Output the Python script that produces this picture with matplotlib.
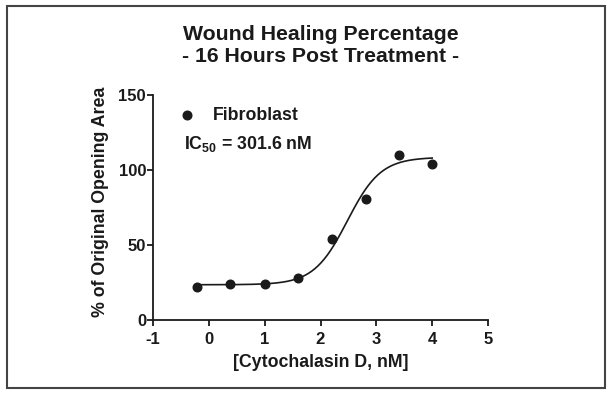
import numpy as np
import matplotlib
matplotlib.use("Agg")
import matplotlib.pyplot as plt
from matplotlib.patches import Rectangle

# Data (log10 concentration, % of original opening area)
log_conc = [-0.22, 0.38, 1.0, 1.6, 2.2, 2.81, 3.41, 4.0]
pct_area = [22.3, 24.3, 24.3, 28.3, 53.8, 80.5, 110.0, 103.8]

# Fitted sigmoidal dose-response parameters
fit_bottom = 23.5
fit_top = 108.5
fit_log_ic50 = np.log10(301.6)
fit_hill = 1.45

title_lines = ["Wound Healing Percentage", "- 16 Hours Post Treatment -"]
xlabel = "[Cytochalasin D, nM]"
ylabel = "% of Original Opening Area"
series_name = "Fibroblast"
x_ticks = [-1, 0, 1, 2, 3, 4, 5]
y_ticks = [0, 50, 100, 150]

plt.rcParams['font.family'] = ['Liberation Sans', 'DejaVu Sans']
plt.rcParams['font.weight'] = 'bold'
plt.rcParams['mathtext.fontset'] = 'custom'
plt.rcParams['mathtext.rm'] = 'Liberation Sans:bold'
plt.rcParams['mathtext.bf'] = 'Liberation Sans:bold'
dark = '#1a1a1a'

fig = plt.figure(figsize=(6.12, 3.95), dpi=100)
ax = fig.add_axes([153/612, 1 - 320/395, (488-153)/612, (320-95)/395])

xs = np.linspace(min(log_conc), max(log_conc), 300)
ys = fit_bottom + (fit_top - fit_bottom) / (1 + 10 ** ((fit_log_ic50 - xs) * fit_hill))
ax.plot(xs, ys, color=dark, lw=1.2, zorder=2)
ax.plot(log_conc, pct_area, 'o', color=dark, ms=6.2, zorder=3, clip_on=False)

ax.set_xlim(-1, 5)
ax.set_ylim(0, 150)
ax.set_xticks(x_ticks)
ax.set_yticks(y_ticks)
ax.set_xticklabels([str(t) for t in x_ticks])
ax.set_yticklabels([str(t) for t in y_ticks])
for s in ['top', 'right']:
    ax.spines[s].set_visible(False)
for s in ['left', 'bottom']:
    ax.spines[s].set_linewidth(1.3)
    ax.spines[s].set_color(dark)
ax.tick_params(direction='out', length=4.5, width=1.3, color=dark,
               labelsize=12, labelcolor=dark)
ax.tick_params(axis='y', pad=0.5)
ax.tick_params(axis='x', pad=4)
for lab in ax.get_xticklabels() + ax.get_yticklabels():
    lab.set_fontweight('bold')

ax.set_xlabel(xlabel, fontsize=12.8, fontweight='bold', color=dark, labelpad=5)
ax.set_ylabel(ylabel, fontsize=12.8, fontweight='bold', color=dark)
ax.yaxis.set_label_coords((109 - 153) / (488 - 153), (320 - 201.5) / (320 - 95))

# Legend-like annotation
ax.plot([-0.39], [136.5], 'o', color=dark, ms=6.2, clip_on=False)
ax.text(0.07, 136.5, series_name, fontsize=12.8, fontweight='bold', color=dark,
        va='center', ha='left')
ax.text(-0.45, 117.5, r"IC$_{\mathrm{50}}$ = 301.6 nM", fontsize=12.8, fontweight='bold',
        color=dark, va='center', ha='left')

fig.text(321/612, 1 - 40.5/395, title_lines[0], fontsize=15.3, fontweight='bold',
         color=dark, ha='center', va='baseline')
fig.text(321/612, 1 - 62/395, title_lines[1], fontsize=15.3, fontweight='bold',
         color=dark, ha='center', va='baseline')

# Outer frame
fig.patches.append(Rectangle((7/612, 1 - 388/395), (605-7)/612, (388-6)/395,
                             transform=fig.transFigure, fill=False,
                             edgecolor='#444444', lw=1.5))

fig.savefig('out.png', dpi=100)
